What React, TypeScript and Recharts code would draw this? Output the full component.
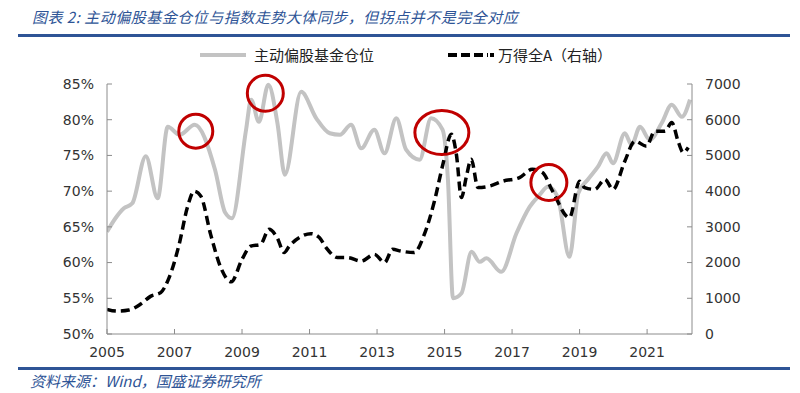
import { Line, LineChart, ReferenceDot, XAxis, YAxis } from "recharts";

// 主动偏股基金仓位 (%, left axis)
const positionYears = [
  2005.0, 2005.25, 2005.5, 2005.75, 2006.15, 2006.5, 2006.8, 2007.15, 2007.6, 2008.2,
  2008.5, 2008.7, 2009.12, 2009.27, 2009.5, 2009.78, 2010.05, 2010.27, 2010.75, 2011.2,
  2011.6, 2011.9, 2012.23, 2012.53, 2012.92, 2013.22, 2013.57, 2013.86, 2014.26, 2014.6,
  2014.94, 2015.1, 2015.25, 2015.5, 2015.8, 2016.04, 2016.24, 2016.68, 2017.13, 2017.52,
  2017.82, 2018.06, 2018.35, 2018.7, 2018.96, 2019.24, 2019.54, 2019.8, 2019.99, 2020.34,
  2020.54, 2020.79, 2021.08, 2021.43, 2021.73, 2022.03, 2022.27,
];
const positionPct = [
  64.3, 66.2, 67.6, 68.3, 74.9, 69.0, 79.0, 77.9, 79.3, 73.0,
  67.0, 66.2, 78.6, 82.8, 79.7, 84.9, 79.5, 72.3, 83.9, 80.2,
  78.1, 77.9, 79.3, 76.0, 78.6, 75.3, 80.2, 75.8, 74.4, 80.2,
  78.6, 71.6, 55.0, 55.7, 61.5, 60.1, 60.6, 58.7, 64.1, 67.8,
  69.5, 70.6, 69.2, 60.8, 69.7, 71.6, 73.4, 75.3, 73.9, 78.1,
  76.5, 79.0, 77.2, 79.5, 82.1, 80.4, 82.8,
];

// 万得全A (right axis)
const indexYears = [
  2005.0, 2005.3, 2005.65, 2006.0, 2006.3, 2006.59, 2006.84, 2007.14, 2007.38, 2007.58,
  2007.78, 2008.07, 2008.37, 2008.68, 2009.0, 2009.26, 2009.55, 2009.8, 2010.04, 2010.25,
  2010.4, 2010.7, 2011.04, 2011.29, 2011.49, 2011.83, 2012.13, 2012.53, 2012.92, 2013.22,
  2013.46, 2013.71, 2014.1, 2014.4, 2014.7, 2014.95, 2015.2, 2015.35, 2015.5, 2015.64,
  2015.79, 2015.99, 2016.33, 2016.73, 2017.22, 2017.6, 2017.9, 2018.2, 2018.7, 2019.0,
  2019.15, 2019.45, 2019.75, 2019.99, 2020.34, 2020.64, 2020.98, 2021.23, 2021.53, 2021.73,
  2021.93, 2022.07, 2022.22,
];
const indexValues = [
  690, 640, 670, 840, 1060, 1160, 1580, 2520, 3540, 4000,
  3860, 2790, 1860, 1460, 2090, 2460, 2510, 2930, 2700, 2280,
  2460, 2700, 2810, 2700, 2420, 2140, 2140, 2040, 2230, 2000,
  2370, 2320, 2280, 2790, 3720, 4750, 5590, 5030, 3820, 4380,
  4890, 4100, 4140, 4280, 4380, 4610, 4520, 4000, 3260, 4280,
  4100, 4050, 4330, 4050, 4840, 5400, 5260, 5680, 5680, 5920,
  5360, 5080, 5220,
];

const yearTicks = [2005, 2007, 2009, 2011, 2013, 2015, 2017, 2019, 2021];
const pctTicks = [50, 55, 60, 65, 70, 75, 80, 85];
const indexTicks = [0, 1000, 2000, 3000, 4000, 5000, 6000, 7000];

// red circles marking turning points (left-axis coordinates)
const circleYears = [2007.63, 2009.69, 2014.92, 2018.09];
const circlePct = [78.4, 83.7, 78.2, 71.2];

const positionData = positionYears.map((x, i) => ({ x, v: positionPct[i] }));
const indexData = indexYears.map((x, i) => ({ x, v: indexValues[i] }));

const axisColor = "#8c8c8c";
const textColor = "#333333";
const blue = "#2e5496";
const numFont = "'DejaVu Sans', sans-serif";
const cjkFont = "'Noto Sans CJK SC', sans-serif";
const GAP = 13;
const TICK = 5;

const LeftTick = (p: any) => (
  <g>
    <line x1={p.x + GAP} x2={p.x + GAP + TICK} y1={p.y} y2={p.y} stroke={axisColor} />
    <text x={p.x} y={p.y} dy="0.35em" textAnchor="end" fill={textColor} fontSize={14} fontFamily={numFont}>
      {p.payload.value}%
    </text>
  </g>
);

const RightTick = (p: any) => (
  <g>
    <line x1={p.x - GAP} x2={p.x - GAP - TICK} y1={p.y} y2={p.y} stroke={axisColor} />
    <text x={p.x} y={p.y} dy="0.35em" textAnchor="start" fill={textColor} fontSize={14} fontFamily={numFont}>
      {p.payload.value}
    </text>
  </g>
);

const BottomTick = (p: any) => (
  <g>
    <line x1={p.x} x2={p.x} y1={p.y - GAP} y2={p.y - GAP - TICK} stroke={axisColor} />
    <text x={p.x} y={p.y} dy="0.71em" textAnchor="middle" fill={textColor} fontSize={14} fontFamily={numFont}>
      {p.payload.value}
    </text>
  </g>
);

const circleSizes = [
  [17, 17],
  [18, 18],
  [27, 22],
  [18, 18],
];

export default function App() {
  return (
    <div style={{ position: "absolute", left: 0, top: 0, width: 800, height: 393, background: "#fff" }}>
      <div
        style={{
          position: "absolute",
          left: 32,
          top: 6,
          fontFamily: cjkFont,
          fontStyle: "italic",
          fontSize: 15,
          letterSpacing: 0.5,
          color: blue,
          lineHeight: "22px",
          whiteSpace: "nowrap",
        }}
      >
        图表 2: 主动偏股基金仓位与指数走势大体同步，但拐点并不是完全对应
      </div>
      <div style={{ position: "absolute", left: 18, top: 34, width: 772, height: 3, background: blue }} />

      <LineChart width={800} height={393} data={positionData} margin={{ top: 84, right: 48, bottom: 29, left: 47 }}>
        <XAxis
          dataKey="x"
          type="number"
          domain={[2005, 2022.33]}
          ticks={yearTicks}
          allowDataOverflow
          height={30}
          stroke={axisColor}
          tickLine={false}
          tickSize={0}
          tickMargin={GAP}
          tick={BottomTick}
        />
        <YAxis
          yAxisId="left"
          domain={[50, 85]}
          ticks={pctTicks}
          width={60}
          stroke={axisColor}
          tickLine={false}
          tickSize={0}
          tickMargin={GAP}
          tick={LeftTick}
        />
        <YAxis
          yAxisId="right"
          orientation="right"
          domain={[0, 7000]}
          ticks={indexTicks}
          width={60}
          stroke={axisColor}
          tickLine={false}
          tickSize={0}
          tickMargin={GAP}
          tick={RightTick}
        />
        <Line
          yAxisId="left"
          data={positionData}
          dataKey="v"
          type="monotone"
          stroke="#c3c3c3"
          strokeWidth={4}
          dot={false}
          isAnimationActive={false}
        />
        <Line
          yAxisId="right"
          data={indexData}
          dataKey="v"
          type="monotone"
          stroke="#000000"
          strokeWidth={3.5}
          strokeDasharray="9 5"
          dot={false}
          isAnimationActive={false}
        />
        {circleYears.map((x, i) => (
          <ReferenceDot
            key={i}
            yAxisId="left"
            x={x}
            y={circlePct[i]}
            r={circleSizes[i][0]}
            shape={(p: any) => (
              <ellipse
                cx={p.cx}
                cy={p.cy}
                rx={circleSizes[i][0]}
                ry={circleSizes[i][1]}
                fill="none"
                stroke="#c00000"
                strokeWidth={3}
              />
            )}
          />
        ))}
      </LineChart>

      <div style={{ position: "absolute", left: 0, top: 44, width: 800, height: 22, fontFamily: cjkFont, fontSize: 15, color: "#222" }}>
        <svg style={{ position: "absolute", left: 200, top: 0 }} width={50} height={22}>
          <line x1={0} x2={46} y1={11} y2={11} stroke="#c3c3c3" strokeWidth={4} />
        </svg>
        <span style={{ position: "absolute", left: 254, top: 0, lineHeight: "22px" }}>主动偏股基金仓位</span>
        <svg style={{ position: "absolute", left: 448, top: 0 }} width={50} height={22}>
          <line x1={0} x2={40} y1={11} y2={11} stroke="#000" strokeWidth={4} strokeDasharray="9 4" />
          <rect x={42} y={9} width={4} height={4} fill="#000" />
        </svg>
        <span style={{ position: "absolute", left: 498, top: 0, lineHeight: "22px" }}>万得全A（右轴）</span>
      </div>

      <div style={{ position: "absolute", left: 18, top: 367, width: 772, height: 3, background: blue }} />
      <div
        style={{
          position: "absolute",
          left: 30,
          top: 371,
          fontFamily: cjkFont,
          fontStyle: "italic",
          fontSize: 15,
          color: blue,
          lineHeight: "20px",
          whiteSpace: "nowrap",
        }}
      >
        资料来源：Wind，国盛证券研究所
      </div>
    </div>
  );
}
